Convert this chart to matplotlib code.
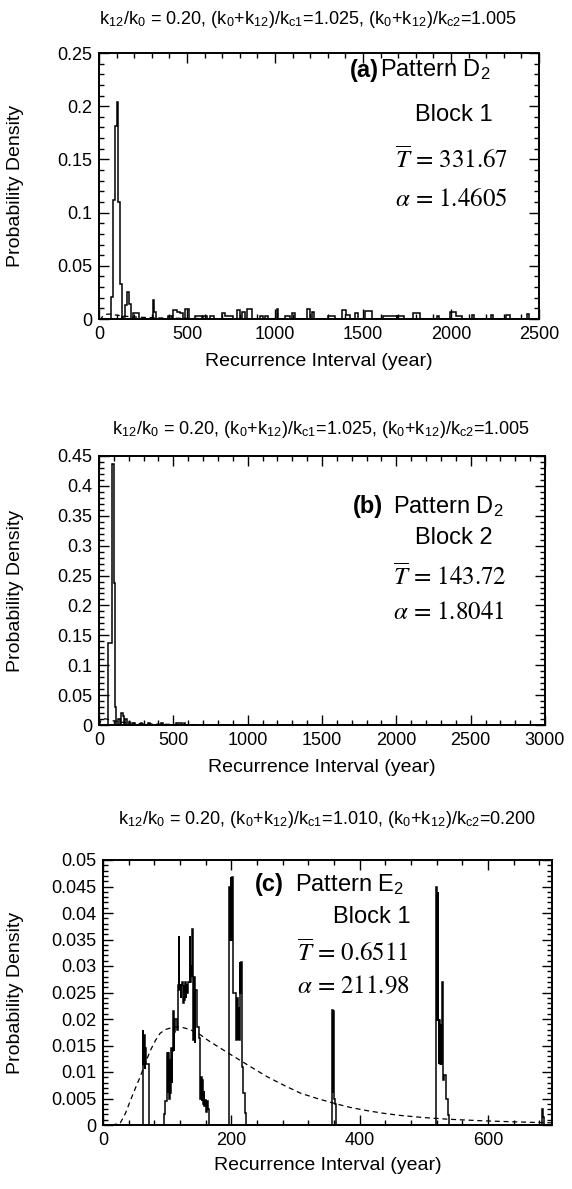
import numpy as np
import matplotlib
matplotlib.use("Agg")
import matplotlib.pyplot as plt
from matplotlib.ticker import MultipleLocator, FormatStrFormatter

plt.rcParams['font.family'] = ['Liberation Sans', 'DejaVu Sans']
plt.rcParams['mathtext.fontset'] = 'stix'

W, H = 572, 1189

# ---- panel (a): non-zero histogram bins (year from, year to, density)
a_lo = [70, 80, 90, 100, 102, 104, 108, 118, 130, 150, 160, 170, 193, 305, 315, 394, 422, 441, 460, 488,
        545, 592, 630, 697, 716, 782, 810, 839, 914, 943, 1009, 1056, 1094, 1183, 1208, 1302, 1378, 1403,
        1454, 1511, 1615, 1695, 1785, 1918, 1994, 2031, 2120, 2225, 2315, 2430]
a_hi = [80, 90, 100, 102, 104, 108, 118, 128, 150, 160, 170, 180, 227, 315, 325, 413, 441, 460, 479, 513,
        583, 611, 653, 716, 763, 801, 829, 871, 933, 962, 1018, 1085, 1113, 1198, 1221, 1340, 1403, 1426,
        1473, 1549, 1691, 1733, 1823, 1933, 2031, 2060, 2132, 2237, 2334, 2442]
a_h = [0.021, 0.112, 0.181, 0.204, 0.185, 0.204, 0.110, 0.033, 0.002, 0.0135, 0.025, 0.014, 0.0056, 0.0175,
       0.007, 0.003, 0.008, 0.007, 0.0056, 0.009, 0.0025, 0.0025, 0.0025, 0.0056, 0.003, 0.0088, 0.007,
       0.009, 0.003, 0.003, 0.009, 0.003, 0.0056, 0.009, 0.007, 0.003, 0.0085, 0.004, 0.006, 0.0075,
       0.003, 0.003, 0.006, 0.003, 0.007, 0.003, 0.004, 0.004, 0.004, 0.005]
a_fit_x = [0, 10, 20, 30, 45, 60, 80, 100, 150, 200, 300, 400, 600, 800, 1200, 1600, 2500]
a_fit_y = [0, 0.0003, 0.0022, 0.0036, 0.0045, 0.0046, 0.0042, 0.0036, 0.0026, 0.0019, 0.0012, 0.0008,
           0.0004, 0.0002, 0.0001, 0.00005, 0.00001]

# ---- panel (b)
b_lo = [63, 85, 100, 108, 130, 150, 160, 175, 200, 230, 280, 330, 420, 520, 570]
b_hi = [85, 100, 108, 115, 140, 160, 170, 185, 210, 240, 290, 340, 430, 560, 580]
b_h = [0.137, 0.436, 0.238, 0.03, 0.01, 0.02, 0.015, 0.01, 0.005, 0.004, 0.004, 0.003, 0.003, 0.004, 0.003]
b_fit_x = [0, 5, 10, 20, 30, 45, 60, 80, 100, 150, 200, 300, 500, 800, 1500, 3000]
b_fit_y = [0, 0.002, 0.006, 0.0095, 0.0105, 0.0102, 0.0093, 0.008, 0.0068, 0.0048, 0.0035, 0.0021,
           0.0009, 0.0004, 0.0001, 0.00002]

# ---- panel (c): contiguous bin edges and densities
c_edges = [0, 62, 63, 64, 65, 66, 67, 71,
           94.5, 97, 100, 101, 102, 103, 104, 105, 106, 107,
           108, 109, 110, 111, 113, 115, 117, 118, 119, 120,
           121, 122, 123, 125, 126, 127, 128, 129, 130, 131,
           133, 135, 136, 137, 138, 139, 140, 141, 142, 143,
           144, 147, 149, 151, 152, 153, 154, 155, 156, 157,
           158, 159, 161, 162, 163, 165,
           197, 198, 199, 200, 201, 202, 203, 208, 209, 210,
           211, 212, 213, 214, 215, 216, 217, 219, 221, 223,
           357, 358, 359, 360, 361, 363,
           519.6, 520.5, 521.5, 522.5, 523.5, 524.5, 525.5, 526.5, 527.5, 528.5,
           529.5, 531, 535, 537.3, 539,
           685, 686, 687, 700]
c_dens = [0, 0.018, 0.0115, 0.017, 0.0105, 0.0145, 0.0115, 0,
          0.002, 0.0045, 0.0135, 0.006, 0.0135, 0.005, 0.0125, 0.006, 0.0145, 0.008,
          0.014, 0.0215, 0.014, 0.0175, 0.02, 0.018, 0.0265, 0.0356, 0.0255, 0.0265,
          0.024, 0.0265, 0.027, 0.023, 0.0265, 0.0235, 0.027, 0.024, 0.0265, 0.025,
          0.027, 0.0356, 0.027, 0.030, 0.028, 0.037, 0.030, 0.016, 0.028, 0.0155,
          0.0255, 0.0185, 0.0165, 0.0095, 0.005, 0.009, 0.0045, 0.0085, 0.004, 0.0065,
          0.0035, 0.0048, 0.0025, 0.0045, 0.003, 0,
          0.045, 0.035, 0.0468, 0.035, 0.0468, 0.0343, 0.025, 0.016, 0.024, 0.016,
          0.022, 0.016, 0.0308, 0.025, 0.0308, 0.025, 0.011, 0.006, 0.0023, 0,
          0.0217, 0.006, 0.0215, 0.005, 0.004, 0,
          0.045, 0.0198, 0.044, 0.0198, 0.0115, 0.0198, 0.0115, 0.019, 0.0115, 0.027,
          0.0085, 0.0095, 0.005, 0.0019, 0,
          0.003, 0.0015, 0]
c_fit_x = [0, 15, 27, 35, 43, 50, 58, 66, 74, 82, 89, 97, 105, 113, 121, 136, 152, 167, 183, 203,
           230, 256, 282, 308, 334, 360, 386, 412, 438, 464, 500, 537, 590, 640, 700]
c_fit_y = [0, 0, 0.0004, 0.0022, 0.0047, 0.0068, 0.0091, 0.0117, 0.0141, 0.0160, 0.0173, 0.0180,
           0.0183, 0.0185, 0.0185, 0.0180, 0.0170, 0.0157, 0.0145, 0.0130, 0.0110, 0.0091, 0.0075,
           0.0060, 0.0050, 0.0041, 0.0033, 0.0027, 0.0022, 0.0018, 0.0014, 0.0011, 0.0008, 0.0006,
           0.0004]

titles = [r"k$_{\mathregular{12}}$/k$_{\mathregular{0}}$ = 0.20, (k$_{\mathregular{0}}$+k$_{\mathregular{12}}$)/k$_{\mathregular{c1}}$=1.025, (k$_{\mathregular{0}}$+k$_{\mathregular{12}}$)/k$_{\mathregular{c2}}$=1.005",
          r"k$_{\mathregular{12}}$/k$_{\mathregular{0}}$ = 0.20, (k$_{\mathregular{0}}$+k$_{\mathregular{12}}$)/k$_{\mathregular{c1}}$=1.025, (k$_{\mathregular{0}}$+k$_{\mathregular{12}}$)/k$_{\mathregular{c2}}$=1.005",
          r"k$_{\mathregular{12}}$/k$_{\mathregular{0}}$ = 0.20, (k$_{\mathregular{0}}$+k$_{\mathregular{12}}$)/k$_{\mathregular{c1}}$=1.010, (k$_{\mathregular{0}}$+k$_{\mathregular{12}}$)/k$_{\mathregular{c2}}$=0.200"]
tags = ["(a)", "(b)", "(c)"]
patterns = [r"Pattern D$_{\mathregular{2}}$", r"Pattern D$_{\mathregular{2}}$", r"Pattern E$_{\mathregular{2}}$"]
blocks = ["Block 1", "Block 2", "Block 1"]
tbar = ["331.67", "143.72", "0.6511"]
alpha = ["1.4605", "1.8041", "211.98"]


def build(lo, hi, h, x0, x1):
    edges = [x0]
    vals = []
    for l, r, v in zip(lo, hi, h):
        if l > edges[-1]:
            vals.append(0.0)
            edges.append(l)
        vals.append(v)
        edges.append(r)
    if x1 > edges[-1]:
        vals.append(0.0)
        edges.append(x1)
    return np.array(vals), np.array(edges)


def px_axes(fig, left, top, right, bottom):
    return fig.add_axes([left / W, 1 - bottom / H, (right - left) / W, (bottom - top) / H])


fig = plt.figure(figsize=(W / 100, H / 100), dpi=100)

# pixel boxes: left, top, right, bottom
boxes = [(99, 53, 539, 319), (99, 456, 545, 725), (103, 860, 552, 1125)]
xlims = [2500, 3000, 700]
ylims = [0.25, 0.45, 0.05]
xmaj = [500, 500, 200]
xmin = [100, 100, 40]
ymaj = [0.05, 0.05, 0.005]
ymin = [0.01, 0.01, 0.001]
title_x = [308, 321, 327]
title_y = [19, 430, 820]
xlabel_y = [362, 768, 1166]
# text anchor positions in pixels: tag x, pattern x, block x, formula x, row ys
tag_x = [350, 353, 255]
pat_x = [380, 393, 295]
blk_x = [415, 415, 333]
eq_x = [395, 393, 297]
rows = [(70, 115, 160, 200), (507, 538, 577, 613), (885, 917, 953, 987)]

hists = [build(a_lo, a_hi, a_h, 0, 2500), build(b_lo, b_hi, b_h, 0, 3000),
         (np.array(c_dens), np.array(c_edges))]
fits = [(a_fit_x, a_fit_y), (b_fit_x, b_fit_y), (c_fit_x, c_fit_y)]

for i in range(3):
    l, t, r, b = boxes[i]
    ax = px_axes(fig, l, t, r, b)
    vals, edges = hists[i]
    ax.stairs(vals, edges, color="black", lw=1.1)
    ax.plot(fits[i][0], fits[i][1], color="black", lw=0.9, dashes=(4, 3))
    ax.set_xlim(0, xlims[i])
    ax.set_ylim(0, ylims[i])
    ax.xaxis.set_major_locator(MultipleLocator(xmaj[i]))
    ax.xaxis.set_minor_locator(MultipleLocator(xmin[i]))
    ax.yaxis.set_major_locator(MultipleLocator(ymaj[i]))
    ax.yaxis.set_minor_locator(MultipleLocator(ymin[i]))
    ax.yaxis.set_major_formatter(FormatStrFormatter("%g"))
    ax.tick_params(which="both", direction="in", top=True, right=True, labelsize=13, width=1)
    ax.tick_params(which="major", length=7.5, pad=5)
    ax.tick_params(which="minor", length=3.5)
    for s in ax.spines.values():
        s.set_linewidth(1.4)
    ax.set_ylabel("Probability Density", fontsize=14)
    ax.yaxis.set_label_coords((24 - l) / (r - l), 0.5)
    ax.set_xlabel("Recurrence Interval (year)", fontsize=14)
    ax.xaxis.set_label_coords(0.5, (b - xlabel_y[i]) / (b - t))
    ax.xaxis.label.set_va("center")

    fig.text(title_x[i] / W, 1 - title_y[i] / H, titles[i], fontsize=13, ha="center", va="center")
    ys = rows[i]
    fig.text(tag_x[i] / W, 1 - ys[0] / H, tags[i], fontsize=17, fontweight="bold", ha="left", va="center")
    fig.text(pat_x[i] / W, 1 - ys[0] / H, patterns[i], fontsize=17, ha="left", va="center")
    fig.text(blk_x[i] / W, 1 - ys[1] / H, blocks[i], fontsize=17, ha="left", va="center")
    fig.text(eq_x[i] / W, 1 - ys[2] / H, r"$\overline{T}$ = " + tbar[i], fontsize=18,
             family=["STIXGeneral"], ha="left", va="center")
    fig.text(eq_x[i] / W, 1 - ys[3] / H, r"$\alpha$ = " + alpha[i], fontsize=18,
             family=["STIXGeneral"], ha="left", va="center")

fig.savefig("out.png", dpi=100)
